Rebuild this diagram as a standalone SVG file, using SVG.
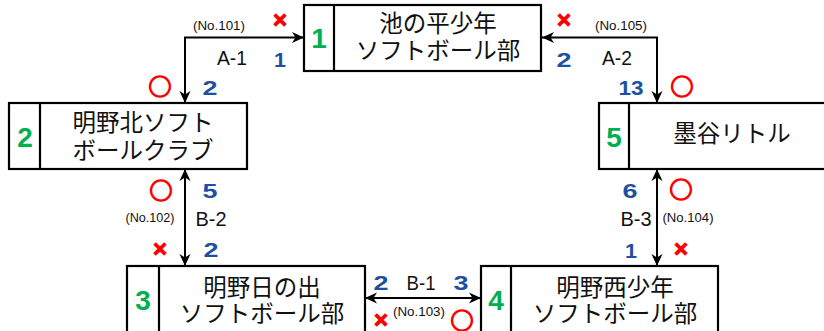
<svg xmlns="http://www.w3.org/2000/svg" width="824" height="331" viewBox="0 0 824 331">
<style>
.box{fill:#fff;stroke:#000;stroke-width:2.2}
.div{stroke:#000;stroke-width:2.2}
.name{font-family:"Noto Sans CJK JP","Noto Sans",sans-serif;font-size:23.5px;fill:#111;text-anchor:middle}
.seed{font-family:"Liberation Sans",Arial,sans-serif;font-weight:bold;font-size:28px;fill:#00B050;text-anchor:middle}
.score{font-family:"Liberation Sans",Arial,sans-serif;font-weight:bold;font-size:21px;fill:#1E4FA3;text-anchor:middle}
.lose{font-family:"Liberation Sans",Arial,sans-serif;font-weight:bold;font-size:24px;fill:#FF0000;stroke:#FF0000;stroke-width:1;text-anchor:middle}
.win{font-family:"Noto Sans CJK JP",sans-serif;font-size:23px;fill:#FF0000;stroke:#FF0000;stroke-width:1.5;text-anchor:middle}
.lbl{font-family:"Liberation Sans",Arial,sans-serif;font-size:21px;fill:#111;text-anchor:middle}
.no{font-family:"Liberation Sans",Arial,sans-serif;font-size:12px;fill:#111;text-anchor:middle}
.con{fill:none;stroke:#000;stroke-width:2}
</style>
<defs>
<marker id="arr" viewBox="0 0 12 12" refX="12" refY="6" markerWidth="12" markerHeight="12" markerUnits="userSpaceOnUse" orient="auto-start-reverse">
<path d="M0,0.5 L12,6 L0,11.5 L3.5,6 Z" fill="#000"/>
</marker>
</defs>
<rect width="824" height="331" fill="#fff"/>

<g id="connectors">
<path class="con" d="M304,37.5 H185 V103" marker-start="url(#arr)" marker-end="url(#arr)"/>
<path class="con" d="M542,37.5 H657 V103" marker-start="url(#arr)" marker-end="url(#arr)"/>
<path class="con" d="M185,169 V266" marker-start="url(#arr)" marker-end="url(#arr)"/>
<path class="con" d="M657,169 V266" marker-start="url(#arr)" marker-end="url(#arr)"/>
<path class="con" d="M365,298 H481" marker-start="url(#arr)" marker-end="url(#arr)"/>
</g>

<g id="node1">
<rect class="box" x="304" y="5" width="237" height="66"/>
<line class="div" x1="334" y1="5" x2="334" y2="71"/>
<text class="seed" x="319" y="48">1</text>
<text class="name" x="438" y="32">池の平少年</text>
<text class="name" x="438" y="59">ソフトボール部</text>
</g>

<g id="node2">
<rect class="box" x="9" y="103" width="238" height="66"/>
<line class="div" x1="40" y1="103" x2="40" y2="169"/>
<text class="seed" x="25" y="147">2</text>
<text class="name" x="143" y="131">明野北ソフト</text>
<text class="name" x="143" y="159">ボールクラブ</text>
</g>

<g id="node5">
<rect class="box" x="599" y="103" width="238" height="66"/>
<line class="div" x1="629" y1="103" x2="629" y2="169"/>
<text class="seed" x="614" y="147">5</text>
<text class="name" x="732" y="142">墨谷リトル</text>
</g>

<g id="node3">
<rect class="box" x="127" y="266" width="238" height="68"/>
<line class="div" x1="159" y1="266" x2="159" y2="334"/>
<text class="seed" x="143" y="310">3</text>
<text class="name" x="262" y="296">明野日の出</text>
<text class="name" x="262" y="322">ソフトボール部</text>
</g>

<g id="node4">
<rect class="box" x="481" y="266" width="237" height="68"/>
<line class="div" x1="511" y1="266" x2="511" y2="334"/>
<text class="seed" x="496" y="310">4</text>
<text class="name" x="615" y="296">明野西少年</text>
<text class="name" x="615" y="322">ソフトボール部</text>
</g>

<g id="labels">
<text class="no" x="219" y="30" textLength="52" lengthAdjust="spacingAndGlyphs">(No.101)</text>
<text class="lbl" x="232" y="65" textLength="30" lengthAdjust="spacingAndGlyphs">A-1</text>
<text class="no" x="621" y="30" textLength="52" lengthAdjust="spacingAndGlyphs">(No.105)</text>
<text class="lbl" x="617" y="65" textLength="30" lengthAdjust="spacingAndGlyphs">A-2</text>
<text class="no" x="150" y="222" textLength="49" lengthAdjust="spacingAndGlyphs">(No.102)</text>
<text class="lbl" x="211" y="226" textLength="31" lengthAdjust="spacingAndGlyphs">B-2</text>
<text class="no" x="688" y="222" textLength="51" lengthAdjust="spacingAndGlyphs">(No.104)</text>
<text class="lbl" x="636" y="226" textLength="31" lengthAdjust="spacingAndGlyphs">B-3</text>
<text class="lbl" x="421" y="290" textLength="29" lengthAdjust="spacingAndGlyphs">B-1</text>
<text class="no" x="419" y="316" textLength="52" lengthAdjust="spacingAndGlyphs">(No.103)</text>

<text class="score" x="280" y="67" textLength="12" lengthAdjust="spacingAndGlyphs">1</text>
<text class="score" x="210" y="95" textLength="15" lengthAdjust="spacingAndGlyphs">2</text>
<text class="score" x="564" y="67" textLength="15" lengthAdjust="spacingAndGlyphs">2</text>
<text class="score" x="631" y="95" textLength="25" lengthAdjust="spacingAndGlyphs">13</text>
<text class="score" x="210" y="198" textLength="15" lengthAdjust="spacingAndGlyphs">5</text>
<text class="score" x="211" y="257" textLength="15" lengthAdjust="spacingAndGlyphs">2</text>
<text class="score" x="630" y="198" textLength="15" lengthAdjust="spacingAndGlyphs">6</text>
<text class="score" x="631" y="258" textLength="12" lengthAdjust="spacingAndGlyphs">1</text>
<text class="score" x="381" y="290" textLength="15" lengthAdjust="spacingAndGlyphs">2</text>
<text class="score" x="461" y="290" textLength="15" lengthAdjust="spacingAndGlyphs">3</text>

<text class="lose" x="280" y="28">×</text>
<text class="lose" x="564" y="28">×</text>
<text class="lose" x="160" y="257">×</text>
<text class="lose" x="681" y="257">×</text>
<text class="lose" x="381" y="328">×</text>

<text class="win" x="160" y="95">○</text>
<text class="win" x="682" y="95">○</text>
<text class="win" x="161" y="199">○</text>
<text class="win" x="681" y="198">○</text>
<text class="win" x="462" y="329">○</text>
</g>
</svg>
